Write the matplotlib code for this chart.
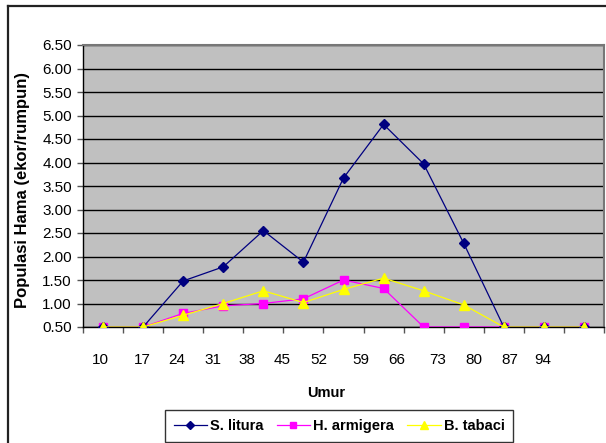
import matplotlib
matplotlib.use("Agg")
import matplotlib.pyplot as plt
from matplotlib.lines import Line2D

plt.rcParams["font.family"] = ["Liberation Sans", "DejaVu Sans"]

# ---- data ----
umur_labels = ["10", "17", "24", "31", "38", "45", "52", "59", "66", "73", "80", "87", "94"]
s_litura   = [0.50, 0.50, 1.48, 1.78, 2.55, 1.88, 3.67, 4.81, 3.97, 2.28, 0.50, 0.50, 0.50]
h_armigera = [0.50, 0.50, 0.79, 0.95, 1.00, 1.10, 1.50, 1.32, 0.50, 0.50, 0.50, 0.50, 0.50]
b_tabaci   = [0.50, 0.50, 0.75, 1.00, 1.27, 1.02, 1.30, 1.54, 1.27, 0.97, 0.50, 0.50, 0.50]
y_ticks = [0.5 + 0.5 * i for i in range(13)]

# category labels in the original sit a bit off the points (text shifted by hand)
label_shift = [-0.07, -0.02, -0.15, -0.25, -0.42, -0.52, -0.62, -0.57, -0.67, -0.65, -0.75, -0.85, -1.02]

W, H = 606, 443
fig = plt.figure(figsize=(W / 100, H / 100), dpi=100)
ax = fig.add_axes([83 / W, 1 - 327 / H, (604 - 83) / W, (327 - 45) / H])
ax.set_facecolor("#C0C0C0")

x = list(range(len(s_litura)))
ax.plot(x, s_litura, color="#000080", lw=0.9, marker="D", ms=5.5, label="S. litura", zorder=4)
ax.plot(x, h_armigera, color="#FF00FF", lw=0.9, marker="s", ms=5.5, label="H. armigera", zorder=3)
ax.plot(x, b_tabaci, color="#FFFF00", lw=0.9, marker="^", ms=7, label="B. tabaci", zorder=5)

ax.set_xlim(-0.5, len(x) - 0.5)
ax.set_ylim(0.5, 6.5)
ax.set_yticks(y_ticks)
ax.set_yticklabels([f"{v:.2f}" for v in y_ticks], fontsize=11)
ax.grid(axis="y", color="black", lw=1)
ax.set_axisbelow(True)

# major ticks = category boundaries (no labels), minor ticks carry the labels
ax.set_xticks([i - 0.5 for i in range(len(x) + 1)])
ax.set_xticklabels([])
ax.set_xticks([i + s for i, s in enumerate(label_shift)], minor=True)
ax.set_xticklabels(umur_labels, minor=True, fontsize=11)
ax.tick_params(axis="x", which="major", direction="out", length=4, width=1, color="#555555")
ax.tick_params(axis="x", which="minor", length=0, pad=19)
ax.tick_params(axis="y", direction="out", length=4, width=1, pad=4, color="#555555")

for side in ("top", "right"):
    ax.spines[side].set_color("#777777")
    ax.spines[side].set_linewidth(1.5)
for side in ("left", "bottom"):
    ax.spines[side].set_color("black")
    ax.spines[side].set_linewidth(1)

fig.text(23 / W, 1 - 190 / H, "Populasi Hama (ekor/rumpun)", rotation=90,
         ha="center", va="center", fontsize=12, fontweight="bold")
fig.text(326 / W, 1 - 393 / H, "Umur", ha="center", va="center",
         fontsize=10.5, fontweight="bold")

leg = fig.legend(loc="center", bbox_to_anchor=(339 / W, 1 - 426 / H), ncol=3,
                 frameon=True, fancybox=False, edgecolor="black",
                 prop={"weight": "bold", "size": 10.5}, handlelength=2.3,
                 columnspacing=0.9, handletextpad=0.2, borderpad=0.6,
                 markerscale=0.8)
leg.get_frame().set_linewidth(1)

# outer chart border (left + top visible in the crop)
fig.add_artist(Line2D([7.5 / W, 7.5 / W], [0, 1 - 6 / H], color="#222222", lw=1.6,
                      transform=fig.transFigure))
fig.add_artist(Line2D([7.5 / W, 1], [1 - 6 / H, 1 - 6 / H], color="#222222", lw=1.6,
                      transform=fig.transFigure))

fig.savefig("out.png", dpi=100)
